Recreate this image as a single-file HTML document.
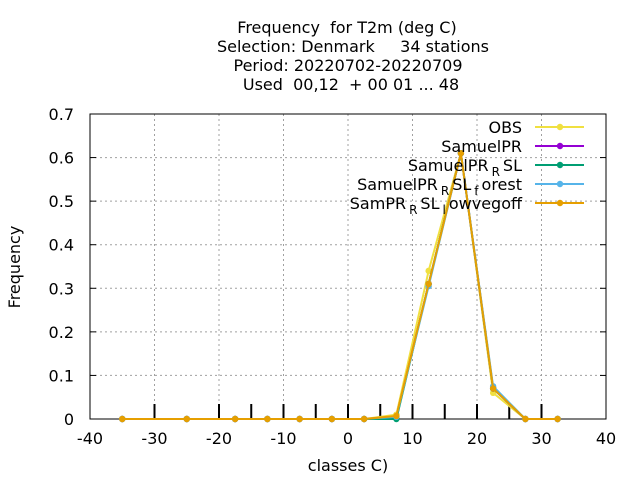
<!DOCTYPE html>
<html><head><meta charset="utf-8"><style>
body{margin:0;background:#fff}
svg{display:block;font-family:"DejaVu Sans","Liberation Sans",sans-serif}
</style></head><body>
<svg id="chart" width="640" height="480" viewBox="0 0 640 480">
<g id="title" font-size="16" text-anchor="middle" fill="#000">
<text x="347" y="33" xml:space="preserve">Frequency  for T2m (deg C)</text>
<text x="353" y="52" xml:space="preserve">Selection: Denmark     34 stations</text>
<text x="348" y="71" xml:space="preserve">Period: 20220702-20220709</text>
<text x="351" y="90" xml:space="preserve">Used  00,12  + 00 01 ... 48</text>
</g>
<g id="grid"></g>
<g id="axes"></g>
<g id="series"></g>
<g id="legend"></g>
<text x="348" y="471" font-size="16" text-anchor="middle">classes C)</text>
<text transform="translate(20,267) rotate(-90)" font-size="16" text-anchor="middle">Frequency</text>
</svg>
<script>
const categories=[-35,-25,-17.5,-12.5,-7.5,-2.5,2.5,7.5,12.5,17.5,22.5,27.5,32.5];
const seriesNames=["OBS","SamuelPR","SamuelPR_R SL","SamuelPR_R SL_f orest","SamPR_R SL_l owvegoff"];
const seriesColors=["#f0e040","#9400d3","#009e73","#56b4e9","#e69f00"];
const obsValues=[0,0,0,0,0,0,0,0.01,0.34,0.61,0.06,0,0];
const samuelPRValues=[0,0,0,0,0,0,0,0.005,0.31,0.61,0.07,0,0];
const samuelPRRSLValues=[0,0,0,0,0,0,0,0.0,0.31,0.61,0.07,0,0];
const samuelPRRSLForestValues=[0,0,0,0,0,0,0,0.005,0.305,0.61,0.075,0,0];
const samPRRSLLowvegoffValues=[0,0,0,0,0,0,0,0.007,0.31,0.61,0.07,0,0];
const xTicks=[-40,-30,-20,-10,0,10,20,30,40];
const yTicks=[0,0.1,0.2,0.3,0.4,0.5,0.6,0.7];
const xMinorTicks=[-30,-20,-15,-10,-5,0,5,10,15,20,25,30];
const allValues=[obsValues,samuelPRValues,samuelPRRSLValues,samuelPRRSLForestValues,samPRRSLLowvegoffValues];

const L=90,R=606,T=114,B=419;
const X=v=>L+(v+40)/80*(R-L);
const Y=v=>B-v/0.7*(B-T);
const NS="http://www.w3.org/2000/svg";
function mk(tag,attrs,parent){const e=document.createElementNS(NS,tag);for(const k in attrs)e.setAttribute(k,attrs[k]);parent.appendChild(e);return e;}
const grid=document.getElementById('grid'),axes=document.getElementById('axes'),ser=document.getElementById('series'),leg=document.getElementById('legend');
xTicks.forEach(t=>{
 if(t>-40&&t<40){const g=mk('line',{x1:X(t),x2:X(t),y1:T,y2:B,stroke:'#a0a0a0','stroke-dasharray':'2,3'},grid);
 
 }
 const tx=mk('text',{x:X(t),y:B+25,'font-size':16,'text-anchor':'middle'},axes);tx.textContent=t;
 
 
});
yTicks.forEach(t=>{
 if(t>0&&t<0.7){const g=mk('line',{x1:L,x2:R,y1:Y(t),y2:Y(t),stroke:'#a0a0a0','stroke-dasharray':'2,3'},grid);
 
 }
 mk('line',{x1:L,x2:L+6,y1:Y(t),y2:Y(t),stroke:'#000'},axes);
 mk('line',{x1:R,x2:R-6,y1:Y(t),y2:Y(t),stroke:'#000'},axes);
 const tx=mk('text',{x:L-16,y:Y(t)+6,'font-size':16,'text-anchor':'end'},axes);tx.textContent=t===0?'0':t.toFixed(1);
 
 
});
xMinorTicks.forEach(t=>{const l=mk('line',{x1:X(t),x2:X(t),y1:B-15,y2:B,stroke:'#000','stroke-width':2},axes);
 
 });
const fr=mk('rect',{x:L,y:T,width:R-L,height:B-T,fill:'none',stroke:'#000'},axes);


allValues.forEach((vals,i)=>{
 const pts=categories.map((c,j)=>X(c)+','+Y(vals[j])).join(' ');
 const pl=mk('polyline',{points:pts,fill:'none',stroke:seriesColors[i],'stroke-width':2},ser);
 
 
 categories.forEach((c,j)=>{const p=mk('circle',{cx:X(c),cy:Y(vals[j]),r:3.2,fill:seriesColors[i]},ser);
  
  });
});
const labels=[["OBS"],["SamuelPR"],["SamuelPR","R","SL"],["SamuelPR","R","SL","f","orest"],["SamPR","R","SL","l","owvegoff"]];
labels.forEach((parts,i)=>{
 const y=127+i*19;
 const g=mk('g',{},leg);
 
 
 const tx=mk('text',{x:522,y:y+6,'font-size':16,'text-anchor':'end'},g);
 parts.forEach((p,k)=>{const s=mk('tspan',{},tx);s.textContent=p;
  if(k%2===1){s.setAttribute('font-size','12');s.setAttribute('dy','5');s.setAttribute('dx','3');}
  else if(k>0){s.setAttribute('dy','-5');s.setAttribute('dx','3');}});
 mk('line',{x1:535,x2:584,y1:y,y2:y,stroke:seriesColors[i],'stroke-width':2},g);
 mk('circle',{cx:560,cy:y,r:3.2,fill:seriesColors[i]},g);
});
</script>
</body></html>
